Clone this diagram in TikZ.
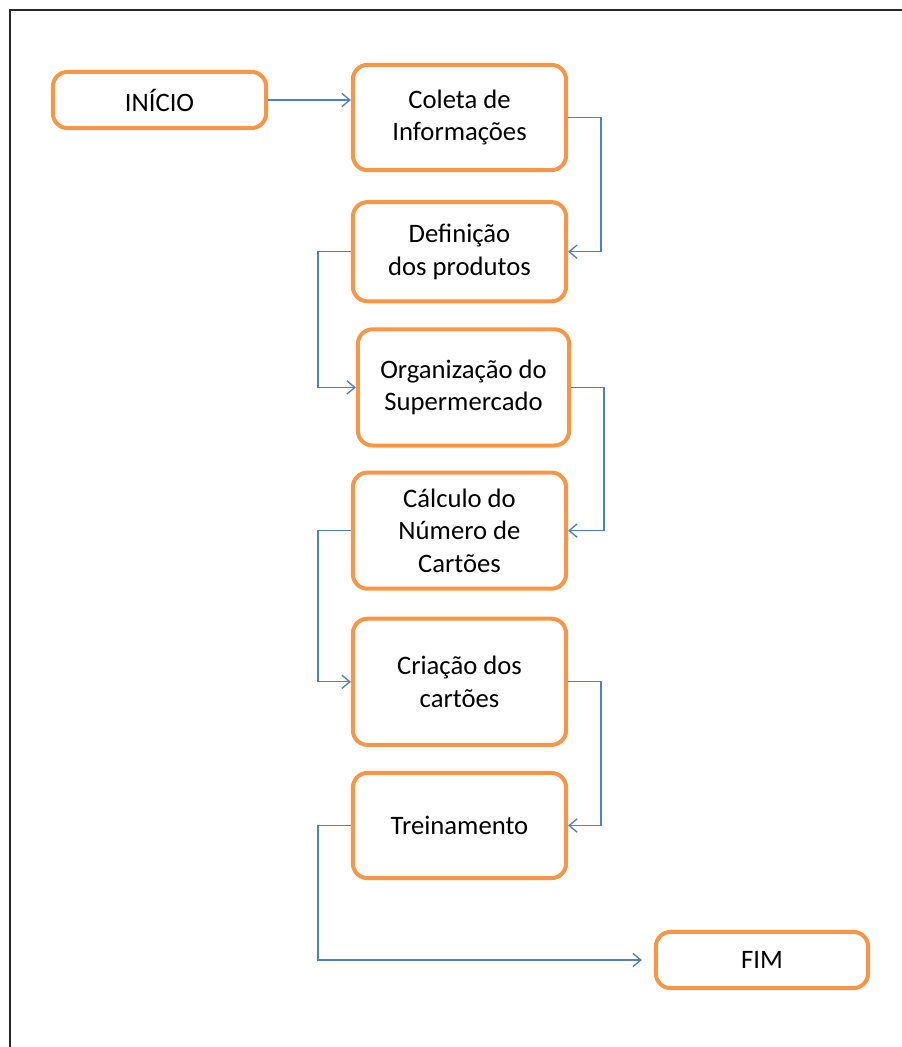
\documentclass[tikz,border=0pt]{standalone}
\usepackage{fontspec}
\setmainfont{Carlito}
\usetikzlibrary{arrows.meta,positioning}
\definecolor{laranja}{HTML}{F79646}
\definecolor{azul}{HTML}{4F81BD}

\begin{document}
\begin{tikzpicture}[
    x=0.75pt, y=-0.75pt,
    node distance=18pt,
    etapa/.style={rectangle, rounded corners=11pt, draw=laranja, line width=3pt, fill=white, minimum width=159.9pt, align=center, font=\fontsize{20}{24.5}\selectfont, inner sep=2pt},
    seta/.style={-{Straight Barb[length=6pt,width=10pt]}, line width=1pt, draw=azul},
    moldura/.style={line width=1.2pt, draw=black!85}
]
\useasboundingbox (0,0) rectangle (901,1047);
\draw[moldura] (10,1060) -- (10,10) -- (920,10);
\node[etapa, minimum height=42.15pt] (inicio) at (159.5,100) {INÍCIO};
\node[etapa, minimum height=78.9pt] (coleta) at (459.5,117.5) {Coleta de\\Informações};
\node[etapa, minimum height=74.4pt, below=21pt of coleta] (definicao) {Definição\\dos produtos};
\node[etapa, minimum height=87.15pt, minimum width=158.4pt, below=18pt of definicao, xshift=3pt] (organizacao) {Organização do\\Supermercado};
\node[etapa, minimum height=87.15pt, below=17.25pt of organizacao, xshift=-3pt] (calculo) {Cálculo do\\Número de\\Cartões};
\node[etapa, minimum height=94.65pt, below=19.5pt of calculo] (criacao) {Criação dos\\cartões};
\node[etapa, minimum height=78.9pt, below=18pt of criacao] (treinamento) {Treinamento};
\node[etapa, minimum height=42.15pt, minimum width=159.15pt] (fim) at (762,960) {FIM};
\draw[seta] (inicio.east) -- (inicio.east -| coleta.west);
\draw[seta] (coleta.east) -- ++(33,0) |- (definicao.east);
\draw[seta] (definicao.west) -- ++(-33,0) |- (organizacao.west);
\draw[seta] (organizacao.east) -- ++(33,0) |- (calculo.east);
\draw[seta] (calculo.west) -- ++(-33,0) |- (criacao.west);
\draw[seta] (criacao.east) -- ++(33,0) |- (treinamento.east);
\draw[seta, shorten >=9pt] (treinamento.west) -- ++(-33,0) |- (fim.west);
\end{tikzpicture}
\end{document}
